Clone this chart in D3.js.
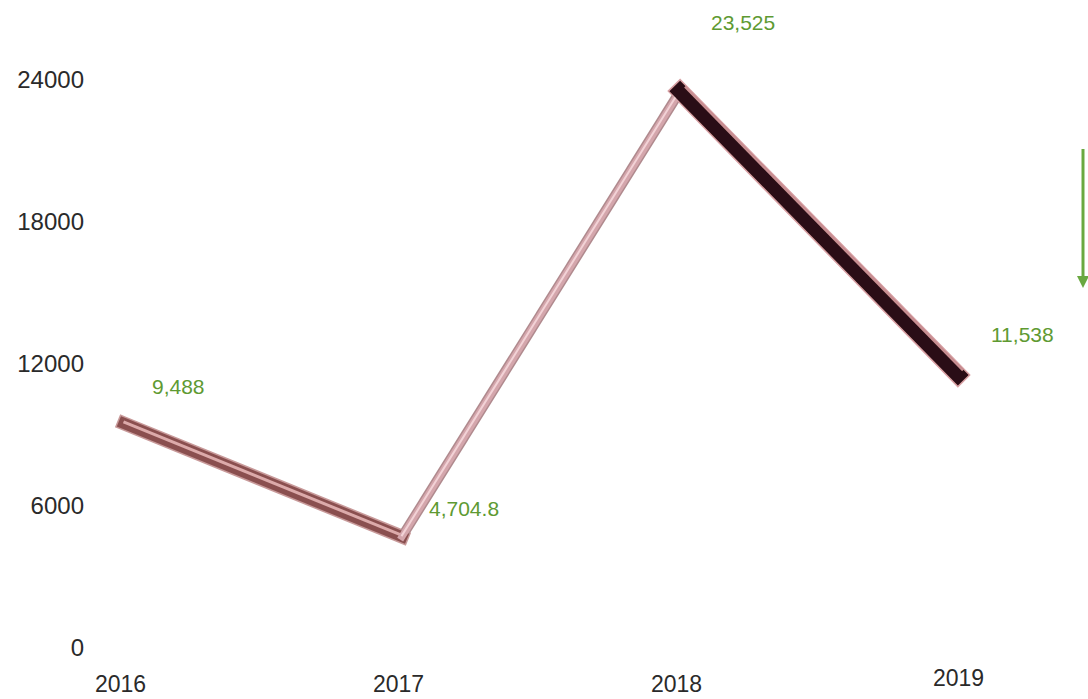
<!DOCTYPE html>
<html><head><meta charset="utf-8">
<script src="https://cdn.jsdelivr.net/npm/d3@7"></script>
<style>body{margin:0;background:#fff}svg{display:block}text{font-family:"Liberation Sans",Arial,sans-serif}</style>
</head><body><svg id="c" width="1088" height="699"></svg>
<script>
const years = ["2016","2017","2018","2019"];
const values = [9488, 4704.8, 23525, 11538];
const valueLabels = ["9,488","4,704.8","23,525","11,538"];
const yTicks = [0, 6000, 12000, 18000, 24000];

const svg = d3.select("#c");
const x = d3.scalePoint().domain(years).range([124, 958]);
const y = d3.scaleLinear().domain([0, 24000]).range([648, 80]);

const defs = svg.append("defs");
defs.append("filter").attr("id","soft").append("feGaussianBlur").attr("stdDeviation",0.7);

// y axis
const ya = svg.append("g").attr("transform","translate(92,0)")
  .call(d3.axisLeft(y).tickValues(yTicks).tickSize(0).tickPadding(8).tickFormat(d3.format("d")));
ya.select(".domain").remove();
ya.selectAll("text").attr("font-size",24).attr("fill","#2a2a2a").attr("font-family","Liberation Sans, Arial, sans-serif");

// x axis
const xa = svg.append("g").attr("transform","translate(-4,672)")
  .call(d3.axisBottom(x).tickSize(0).tickPadding(4));
xa.select(".domain").remove();
xa.selectAll("text").attr("font-size",23).attr("fill","#2a2a2a").attr("font-family","Liberation Sans, Arial, sans-serif");
xa.selectAll(".tick").filter(d=>d==="2019").select("text").attr("dy","0.45em").attr("dx","4");

const pts = years.map((yr,i)=>({yr, v:values[i], lab:valueLabels[i]}));
const segs = d3.pairs(pts);
const segStyle = [
  {edge:"#c89a9a", base:"#8a4f4f", w:11, hi:"#dcaaaa", hw:3, off:"translate(-0.5,-1.5)"},
  {edge:"#b08a8e", base:"#d4a6ac", w:7, hi:"#f2d2d6", hw:2, off:"translate(-0.5,-0.5)"},
  {edge:"#d8a0a4", base:"#2a0e12", w:15, hi:"#c88e92", hw:2.5, off:"translate(5,-4.5)"}
];
const line = d3.line().x(d=>x(d.yr)).y(d=>y(d.v));
const g = svg.append("g").attr("filter","url(#soft)");
segs.forEach((s,i)=>{
  const st = segStyle[i];
  g.append("path").attr("d", line(s)).attr("fill","none")
    .attr("stroke",st.edge).attr("stroke-width", st.w+3).attr("stroke-linecap","square");
});
segs.forEach((s,i)=>{
  const st = segStyle[i];
  g.append("path").attr("d", line(s)).attr("fill","none")
    .attr("stroke",st.base).attr("stroke-width", st.w).attr("stroke-linecap","square");
  g.append("path").attr("d", line(s)).attr("fill","none")
    .attr("transform", st.off)
    .attr("stroke",st.hi).attr("stroke-width", st.hw).attr("stroke-linecap","butt");
});

// value labels
const labOff = [[28,-29],[27,-21],[31,-61],[33,-33]];
svg.append("g").selectAll("text").data(pts).join("text")
  .attr("x",(d,i)=>x(d.yr)+labOff[i][0])
  .attr("y",(d,i)=>y(d.v)+labOff[i][1])
  .attr("font-size",21).attr("fill","#5e9a32")
  .text(d=>d.lab);

// arrow
defs.append("marker").attr("id","ah").attr("viewBox","0 0 10 10").attr("refX",5).attr("refY",5)
  .attr("markerWidth",4).attr("markerHeight",4).attr("orient","auto")
  .append("path").attr("d","M0,0L10,5L0,10Z").attr("fill","#6aa840");
svg.append("line").attr("x1",1083).attr("y1",149).attr("x2",1083).attr("y2",282)
  .attr("stroke","#6aa840").attr("stroke-width",3).attr("marker-end","url(#ah)");
</script></body></html>
